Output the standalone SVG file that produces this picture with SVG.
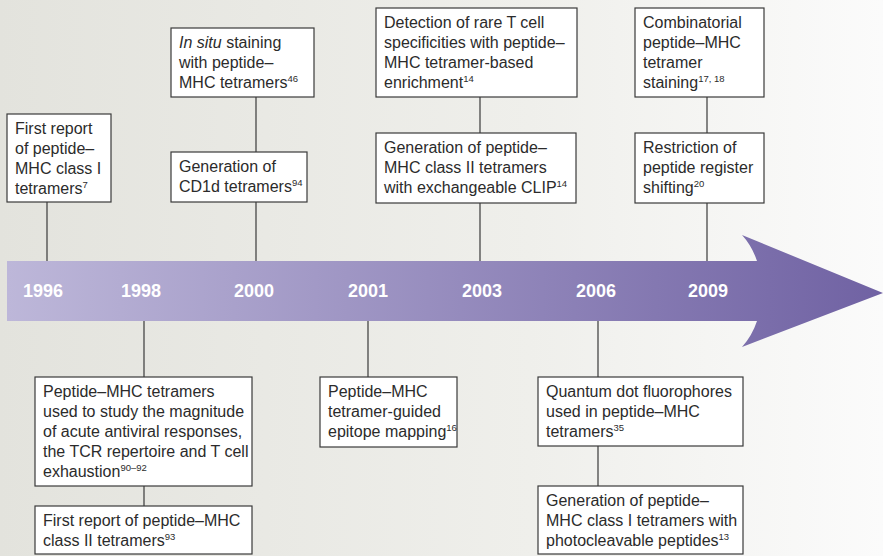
<svg xmlns="http://www.w3.org/2000/svg" width="883" height="556" viewBox="0 0 883 556">
<defs>
<linearGradient id="bg" x1="0" y1="0" x2="1" y2="0">
<stop offset="0" stop-color="#e3e3dd"/>
<stop offset="0.6" stop-color="#efefeb"/>
<stop offset="1" stop-color="#fbfbfb"/>
</linearGradient>
<linearGradient id="arr" x1="7" y1="0" x2="883" y2="0" gradientUnits="userSpaceOnUse">
<stop offset="0" stop-color="#bdb7d9"/>
<stop offset="1" stop-color="#7062a3"/>
</linearGradient>
<style>
.box{fill:#fff;stroke:#3a3a3a;stroke-width:1.2}
.ln{stroke:#3a3a3a;stroke-width:1.2;fill:none}
.t{font-family:"Liberation Sans",Arial,sans-serif;font-size:16px;fill:#2b2b2b}
.s{font-size:9.5px}
.yr{font-family:"Liberation Sans",Arial,sans-serif;font-size:18px;font-weight:bold;fill:#fff;text-anchor:middle}
</style>
</defs>
<rect width="883" height="556" fill="url(#bg)"/>
<g id="connectors">
<line class="ln" x1="47" y1="202" x2="47" y2="261"/>
<line class="ln" x1="256" y1="97" x2="256" y2="152"/>
<line class="ln" x1="256" y1="202" x2="256" y2="261"/>
<line class="ln" x1="480" y1="97" x2="480" y2="133"/>
<line class="ln" x1="480" y1="203" x2="480" y2="261"/>
<line class="ln" x1="707" y1="97" x2="707" y2="133"/>
<line class="ln" x1="707" y1="203" x2="707" y2="261"/>
<line class="ln" x1="144" y1="321" x2="144" y2="377"/>
<line class="ln" x1="144" y1="486" x2="144" y2="506"/>
<line class="ln" x1="368" y1="321" x2="368" y2="377"/>
<line class="ln" x1="598" y1="321" x2="598" y2="377"/>
<line class="ln" x1="598" y1="446" x2="598" y2="486"/>
</g>
<g id="timeline">
<path d="M7 261 L757 261 Q752 246 742 235 L883 293 L742 347 Q752 336 757 321 L7 321 Z" fill="url(#arr)"/>
<text class="yr" x="43" y="297">1996</text>
<text class="yr" x="141" y="297">1998</text>
<text class="yr" x="254" y="297">2000</text>
<text class="yr" x="368" y="297">2001</text>
<text class="yr" x="482" y="297">2003</text>
<text class="yr" x="596" y="297">2006</text>
<text class="yr" x="708" y="297">2009</text>
</g>
<g id="n1996">
<rect class="box" x="7" y="114" width="104" height="88"/>
<text class="t" x="15" y="134">First report<tspan x="15" y="154">of peptide–</tspan><tspan x="15" y="174">MHC class I</tspan><tspan x="15" y="194">tetramers<tspan class="s" dy="-6">7</tspan></tspan></text>
</g>
<g id="n2000a">
<rect class="box" x="171" y="28" width="143" height="69"/>
<text class="t" x="179" y="48"><tspan font-style="italic">In situ</tspan> staining<tspan x="179" y="68">with peptide–</tspan><tspan x="179" y="88">MHC tetramers<tspan class="s" dy="-6">46</tspan></tspan></text>
</g>
<g id="n2000b">
<rect class="box" x="171" y="152" width="136" height="50"/>
<text class="t" x="179" y="172">Generation of<tspan x="179" y="192">CD1d tetramers<tspan class="s" dy="-6">94</tspan></tspan></text>
</g>
<g id="n2003a">
<rect class="box" x="376" y="8" width="201" height="89"/>
<text class="t" x="384" y="28">Detection of rare T cell<tspan x="384" y="48">specificities with peptide–</tspan><tspan x="384" y="68">MHC tetramer-based</tspan><tspan x="384" y="88">enrichment<tspan class="s" dy="-6">14</tspan></tspan></text>
</g>
<g id="n2003b">
<rect class="box" x="376" y="133" width="200" height="70"/>
<text class="t" x="384" y="153">Generation of peptide–<tspan x="384" y="173">MHC class II tetramers</tspan><tspan x="384" y="193">with exchangeable CLIP<tspan class="s" dy="-6">14</tspan></tspan></text>
</g>
<g id="n2009a">
<rect class="box" x="635" y="8" width="129" height="89"/>
<text class="t" x="643" y="28">Combinatorial<tspan x="643" y="48">peptide–MHC</tspan><tspan x="643" y="68">tetramer</tspan><tspan x="643" y="88">staining<tspan class="s" dy="-6">17, 18</tspan></tspan></text>
</g>
<g id="n2009b">
<rect class="box" x="635" y="133" width="129" height="70"/>
<text class="t" x="643" y="153">Restriction of<tspan x="643" y="173">peptide register</tspan><tspan x="643" y="193">shifting<tspan class="s" dy="-6">20</tspan></tspan></text>
</g>
<g id="n1998a">
<rect class="box" x="35" y="377" width="217" height="109"/>
<text class="t" x="43" y="397">Peptide–MHC tetramers<tspan x="43" y="417">used to study the magnitude</tspan><tspan x="43" y="437">of acute antiviral responses,</tspan><tspan x="43" y="457">the TCR repertoire and T cell</tspan><tspan x="43" y="477">exhaustion<tspan class="s" dy="-6">90–92</tspan></tspan></text>
</g>
<g id="n1998b">
<rect class="box" x="35" y="506" width="217" height="48"/>
<text class="t" x="43" y="526">First report of peptide–MHC<tspan x="43" y="546">class II tetramers<tspan class="s" dy="-6">93</tspan></tspan></text>
</g>
<g id="n2001">
<rect class="box" x="320" y="377" width="137" height="70"/>
<text class="t" x="328" y="397">Peptide–MHC<tspan x="328" y="417">tetramer-guided</tspan><tspan x="328" y="437">epitope mapping<tspan class="s" dy="-6">16</tspan></tspan></text>
</g>
<g id="n2006a">
<rect class="box" x="538" y="377" width="205" height="69"/>
<text class="t" x="546" y="397">Quantum dot fluorophores<tspan x="546" y="417">used in peptide–MHC</tspan><tspan x="546" y="437">tetramers<tspan class="s" dy="-6">35</tspan></tspan></text>
</g>
<g id="n2006b">
<rect class="box" x="538" y="486" width="205" height="68"/>
<text class="t" x="546" y="506">Generation of peptide–<tspan x="546" y="526">MHC class I tetramers with</tspan><tspan x="546" y="546">photocleavable peptides<tspan class="s" dy="-6">13</tspan></tspan></text>
</g>
</svg>
